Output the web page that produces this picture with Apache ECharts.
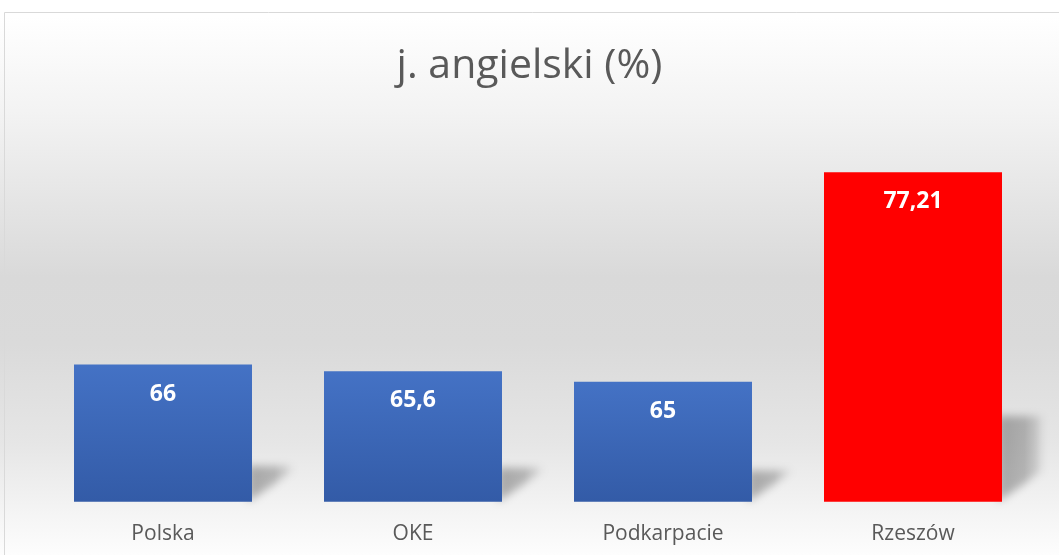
<!DOCTYPE html>
<html>
<head>
<meta charset="utf-8">
<script src="https://cdn.jsdelivr.net/npm/echarts@6/dist/echarts.min.js"></script>
<style>
html,body{margin:0;padding:0;background:#fff;}
#chart{width:1059px;height:555px;}
</style>
</head>
<body>
<div id="chart"></div>
<script>
var titleText = 'j. angielski (%)';
var categories = ['Polska', 'OKE', 'Podkarpacie', 'Rzeszów'];
var values = [66, 65.6, 65, 77.21];
var highlighted = ['Rzeszów'];

var axisMin = 58, axisMax = 80;

var blueStyle = {
  color: new echarts.graphic.LinearGradient(0, 0, 0, 1, [
    {offset: 0, color: '#4472c5'},
    {offset: 1, color: '#335ba7'}
  ])
};
var redStyle = {color: '#ff0000'};

var chart = echarts.init(document.getElementById('chart'), null, {renderer: 'canvas'});

var barData = values.map(function (v, i) {
  return {value: v, itemStyle: highlighted.indexOf(categories[i]) >= 0 ? redStyle : blueStyle};
});

var OFF = 3000;

var option = {
  animation: false,
  graphic: [
    {
      type: 'rect', z: -10, silent: true,
      shape: {x: 0, y: 0, width: 1059, height: 555},
      style: {
        fill: new echarts.graphic.LinearGradient(0, 0, 0, 1, [
          {offset: 0, color: '#ffffff'},
          {offset: 0.03, color: '#ffffff'},
          {offset: 0.2, color: '#f3f3f3'},
          {offset: 0.5, color: '#d9d9d9'},
          {offset: 0.62, color: '#dadada'},
          {offset: 0.8, color: '#e6e6e6'},
          {offset: 1, color: '#fdfdfd'}
        ])
      }
    },
    {
      type: 'rect', z: -9, silent: true,
      shape: {x: 4.5, y: 12.5, width: 1100, height: 600},
      style: {fill: 'none', stroke: '#d9d9d9', lineWidth: 1}
    }
  ],
  title: {
    text: titleText,
    left: 'center',
    top: 41,
    textStyle: {
      fontFamily: 'Open Sans',
      fontWeight: 'normal',
      fontSize: 41,
      color: '#595959'
    }
  },
  grid: {left: 38, right: 21, top: 124.4, bottom: 53.3},
  xAxis: {
    type: 'category',
    data: categories,
    axisLine: {show: false},
    axisTick: {show: false},
    axisLabel: {
      fontFamily: 'Open Sans',
      fontSize: 21,
      color: '#595959',
      margin: 22
    }
  },
  yAxis: {
    type: 'value',
    min: axisMin,
    max: axisMax,
    show: false,
    splitLine: {show: false}
  },
  series: [
    {
      type: 'custom',
      z: 1,
      silent: true,
      data: values.map(function (v, i) { return [i, v]; }),
      renderItem: function (params, api) {
        var idx = api.value(0);
        var top = api.coord([idx, api.value(1)]);
        var base = api.coord([idx, axisMin]);
        var bw = api.size([1, 0])[0] * 0.712;
        var R = top[0] + bw / 2 - 4 + OFF;
        var b = base[1];
        var hs = 0.26 * (b - top[1]);
        var dx = 44;
        return {
          type: 'polygon',
          shape: {points: [[R, b], [R, b - hs], [R + dx, b - hs], [R + dx, b - 30]]},
          style: {
            fill: new echarts.graphic.LinearGradient(0, 0, 1, 0, [
              {offset: 0, color: 'rgba(0,0,0,1)'},
              {offset: 0.6, color: 'rgba(0,0,0,0.8)'},
              {offset: 1, color: 'rgba(0,0,0,0.3)'}
            ]),
            shadowBlur: 9,
            shadowOffsetX: -OFF,
            shadowColor: 'rgba(0,0,0,0.3)'
          }
        };
      }
    },
    {
      type: 'bar',
      z: 2,
      barWidth: '71.2%',
      data: barData,
      label: {
        show: true,
        position: 'insideTop',
        distance: 18,
        fontFamily: 'Open Sans',
        fontWeight: 'bold',
        fontSize: 23,
        color: '#ffffff',
        formatter: function (p) { return String(p.value).replace('.', ','); }
      }
    }
  ]
};
chart.setOption(option);
</script>
</body>
</html>
